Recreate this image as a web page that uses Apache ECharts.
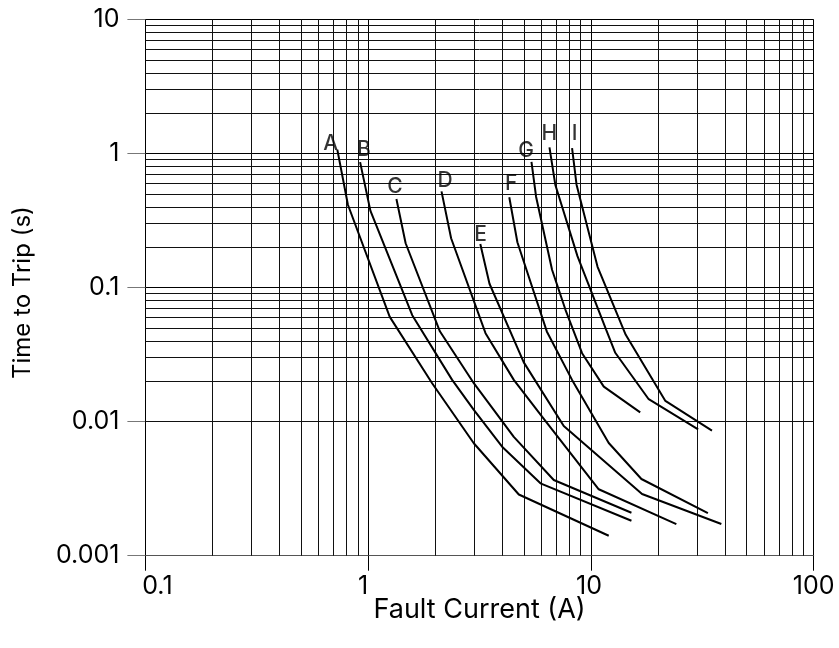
<!DOCTYPE html>
<html><head><meta charset="utf-8">
<script src="https://cdn.jsdelivr.net/npm/echarts@6/dist/echarts.min.js"></script>
<style>html,body{margin:0;padding:0;background:#fff}#c{width:839px;height:648px}</style>
</head><body><div id="c"></div>
<script>
// Curve names
const curveNames = ['A','B','C','D','E','F','G','H','I'];
// Fault current (A) / time to trip (s) for each curve
const currentA = [0.727, 0.811, 1.25, 1.937, 2.98, 4.745, 12.02];
const timeA    = [1.07, 0.415, 0.0605, 0.01935, 0.0069, 0.00286, 0.001408];
const currentB = [0.920, 1.023, 1.577, 2.382, 2.98, 3.993, 5.935, 15.2];
const timeB    = [0.863, 0.375, 0.0622, 0.02049, 0.01223, 0.0065, 0.003467, 0.001823];
const currentC = [1.339, 1.473, 2.098, 2.98, 4.505, 6.81, 15.2];
const timeC    = [0.458, 0.2142, 0.0472, 0.01935, 0.00769, 0.00367, 0.00209];
const currentD = [2.134, 2.357, 3.363, 4.505, 6.034, 10.84, 24.18];
const timeD    = [0.522, 0.2334, 0.0457, 0.02049, 0.0109, 0.00313, 0.001722];
const currentE = [3.187, 3.505, 4.995, 7.55, 16.96, 38.5];
const timeE    = [0.2113, 0.1068, 0.02768, 0.00929, 0.002885, 0.001722];
const currentF = [4.30, 4.676, 6.337, 8.228, 12.02, 16.85, 33.5];
const timeF    = [0.4724, 0.218, 0.0471, 0.02049, 0.00693, 0.003734, 0.00208];
const currentG = [5.408, 5.672, 6.69, 7.686, 9.124, 11.42, 16.64];
const timeG    = [0.8656, 0.4766, 0.1358, 0.0683, 0.03242, 0.01826, 0.01172];
const currentH = [6.514, 6.918, 8.70, 11.71, 12.86, 18.17, 30.29];
const timeH    = [1.112, 0.5856, 0.1716, 0.04839, 0.03265, 0.0147, 0.00875];
const currentI = [8.228, 8.619, 10.71, 14.33, 21.59, 34.94];
const timeI    = [1.097, 0.5856, 0.1428, 0.04442, 0.01427, 0.00857];
// Curve label positions (current, time)
const labelCurrent = [0.679, 0.956, 1.320, 2.215, 3.194, 4.39, 5.115, 6.50, 8.44];
const labelTime    = [1.188, 1.064, 0.566, 0.630, 0.249, 0.598, 1.055, 1.408, 1.408];
// Axis tick labels
const xTickLabels = ['0.1', '1', '10', '100'];
const yTickLabels = ['0.001', '0.01', '0.1', '1', '10'];
// Minor grid values (log paper)
const minorX = [0.2,0.3,0.4,0.5,0.6,0.7,0.8,0.9, 2,3,4,5,6,7,8,9, 20,30,40,50,60,70,80,90];
const minorY = [0.002,0.003,0.004,0.005,0.006,0.007,0.008,0.009,
                0.02,0.03,0.04,0.05,0.06,0.07,0.08,0.09,
                0.2,0.3,0.4,0.5,0.6,0.7,0.8,0.9, 2,3,4,5,6,7,8,9];

const curves = [
  [currentA, timeA], [currentB, timeB], [currentC, timeC], [currentD, timeD],
  [currentE, timeE], [currentF, timeF], [currentG, timeG], [currentH, timeH], [currentI, timeI]
];
const FONT = 'Inter';

const series = [];
series.push({
  type: 'line', data: [], silent: true, z: 1, animation: false,
  markLine: {
    silent: true, animation: false, symbol: ['none', 'none'],
    label: { show: false },
    lineStyle: { color: '#111', width: 1, type: 'solid' },
    emphasis: { disabled: true },
    data: minorX.map(v => ({ xAxis: v })).concat(minorY.map(v => ({ yAxis: v })))
  }
});
curves.forEach((c, k) => {
  series.push({
    name: curveNames[k], type: 'line', z: 5, animation: false, silent: true,
    showSymbol: false, symbol: 'none', smooth: false,
    lineStyle: { color: '#000', width: 2 },
    data: c[0].map((x, i) => [x, c[1][i]])
  });
});
series.push({
  type: 'scatter', z: 6, animation: false, silent: true, symbolSize: 0,
  data: labelCurrent.map((x, i) => ({ value: [x, labelTime[i]], name: curveNames[i] })),
  label: {
    show: true, position: 'inside', formatter: p => p.name,
    color: '#000', fontFamily: FONT, fontSize: 21, fontWeight: 500
  }
});

const chart = echarts.init(document.getElementById('c'));
chart.setOption({
  backgroundColor: '#fff',
  animation: false,
  grid: { left: 145.4, right: 25.3, top: 19.5, bottom: 92.3, containLabel: false },
  xAxis: {
    type: 'log', logBase: 10, min: 0.1, max: 100,
    name: 'Fault Current (A)', nameLocation: 'middle', nameGap: 41, nameMoveOverlap: false,
    nameTextStyle: { color: '#000', fontFamily: FONT, fontSize: 27 },
    axisLine: { show: true, lineStyle: { color: '#555', width: 1 } },
    axisTick: { show: true, length: 15, inside: false, lineStyle: { color: '#000', width: 1 } },
    axisLabel: {
      show: true, margin: 18, color: '#000', fontFamily: FONT, fontSize: 25,
      showMinLabel: true, showMaxLabel: true,
      formatter: (v, i) => '{l' + i + '|' + xTickLabels[i] + '}',
      rich: {
        l0: { fontFamily: FONT, fontSize: 25, color: '#000', padding: [0, 0, 0, 24] },
        l1: { fontFamily: FONT, fontSize: 25, color: '#000', padding: [0, 10, 0, 0] },
        l2: { fontFamily: FONT, fontSize: 25, color: '#000', padding: [0, 4, 0, 0] },
        l3: { fontFamily: FONT, fontSize: 25, color: '#000' }
      }
    },
    splitLine: { show: true, lineStyle: { color: '#000', width: 1 } },
    minorTick: { show: false }, minorSplitLine: { show: false }
  },
  yAxis: {
    type: 'log', logBase: 10, min: 0.001, max: 10,
    name: 'Time to Trip (s)', nameLocation: 'middle', nameGap: 111, nameMoveOverlap: false,
    nameTextStyle: { color: '#000', fontFamily: FONT, fontSize: 24, padding: [0, 10, 0, 0] },
    axisLine: { show: true, lineStyle: { color: '#000', width: 1 } },
    axisTick: { show: true, length: 18, inside: false, lineStyle: { color: '#777', width: 1 } },
    axisLabel: {
      show: true, margin: 26, color: '#000', fontFamily: FONT, fontSize: 25,
      showMinLabel: true, showMaxLabel: true,
      formatter: (v, i) => yTickLabels[i]
    },
    splitLine: { show: true, lineStyle: { color: '#000', width: 1 } },
    minorTick: { show: false }, minorSplitLine: { show: false }
  },
  series: series
});
</script></body></html>
